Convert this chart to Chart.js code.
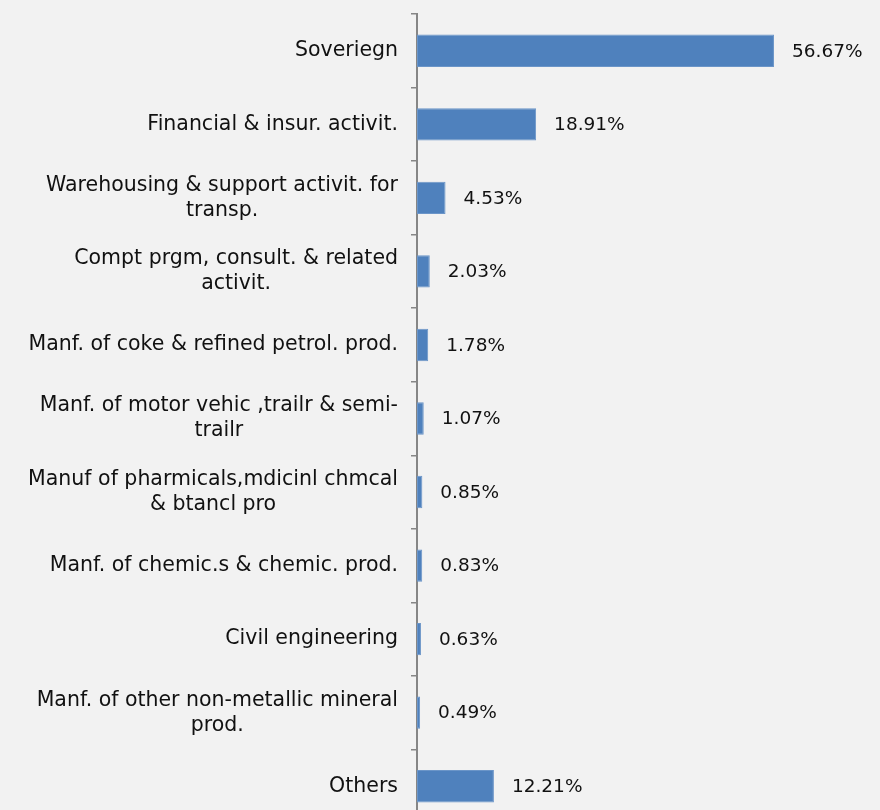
<!DOCTYPE html>
<html>
<head>
<meta charset="utf-8">
<script src="https://cdn.jsdelivr.net/npm/chart.js@4.4.0/dist/chart.umd.min.js"></script>
<style>
    html, body {
        margin: 0;
        padding: 0;
        background: #f2f2f2;
        overflow: hidden;
    }
    .chart-box {
        position: relative;
        width: 880px;
        height: 823px;
    }
</style>
</head>
<body>
<div class="chart-box">
    <canvas id="sector-chart"></canvas>
</div>
<script>
// Sector breakdown, share of total (%)
const sectors = [
    ["Soveriegn"],
    ["Financial & insur. activit."],
    ["Warehousing & support activit. for", "transp."],
    ["Compt prgm, consult. & related", "activit."],
    ["Manf. of coke & refined petrol. prod."],
    ["Manf. of motor vehic ,trailr & semi-", "trailr"],
    ["Manuf of pharmicals,mdicinl chmcal", "& btancl pro"],
    ["Manf. of chemic.s & chemic. prod."],
    ["Civil engineering"],
    ["Manf. of other non-metallic mineral", "prod."],
    ["Others"]
];
const shares = [56.67, 18.91, 4.53, 2.03, 1.78, 1.07, 0.85, 0.83, 0.63, 0.49, 12.21];

const LABEL_FONT = '20.5px "DejaVu Sans", sans-serif';
const VALUE_FONT = '18.5px "DejaVu Sans", sans-serif';
const TEXT_COLOR = '#111111';

// Category names: block right-aligned next to the axis, lines centred within the block
const categoryLabels = {
    id: 'categoryLabels',
    afterDraw(chart) {
        const ctx = chart.ctx;
        const y = chart.scales.y;
        const right = y.right - 19;
        const lineH = 25;
        ctx.save();
        ctx.font = LABEL_FONT;
        ctx.fillStyle = TEXT_COLOR;
        ctx.textAlign = 'center';
        ctx.textBaseline = 'middle';
        sectors.forEach((lines, i) => {
            const cy = y.getPixelForValue(i);
            const w = Math.max(...lines.map(l => ctx.measureText(l).width));
            const cx = right - w / 2;
            const top = cy - (lines.length - 1) * lineH / 2;
            lines.forEach((l, j) => ctx.fillText(l, cx, top + j * lineH));
        });
        ctx.restore();
    }
};

// Percent labels after each bar end
const valueLabels = {
    id: 'valueLabels',
    afterDatasetsDraw(chart) {
        const ctx = chart.ctx;
        const meta = chart.getDatasetMeta(0);
        ctx.save();
        ctx.font = VALUE_FONT;
        ctx.fillStyle = TEXT_COLOR;
        ctx.textAlign = 'left';
        ctx.textBaseline = 'middle';
        meta.data.forEach((bar, i) => {
            ctx.fillText(shares[i].toFixed(2) + '%', bar.x + 18, bar.y + 1);
        });
        ctx.restore();
    }
};

new Chart(document.getElementById('sector-chart'), {
    type: 'bar',
    data: {
        labels: sectors.map(l => l.join(' ')),
        datasets: [{
            data: shares,
            backgroundColor: '#4f81bd',
            borderColor: '#6b95c8',
            borderWidth: 1,
            borderSkipped: false,
            categoryPercentage: 1,
            barPercentage: 0.44
        }]
    },
    options: {
        indexAxis: 'y',
        responsive: true,
        maintainAspectRatio: false,
        animation: false,
        layout: { padding: { top: 14, right: 0, bottom: 0, left: 0 } },
        plugins: {
            legend: { display: false },
            tooltip: { enabled: false }
        },
        scales: {
            x: {
                display: false,
                min: 0,
                max: 73.5
            },
            y: {
                afterFit(scale) { scale.width = 417; },
                ticks: { display: false },
                grid: {
                    offset: true,
                    drawOnChartArea: false,
                    drawTicks: true,
                    tickLength: 6,
                    color: '#868686',
                    lineWidth: 1.5
                },
                border: { color: '#868686', width: 2 }
            }
        }
    },
    plugins: [categoryLabels, valueLabels]
});
</script>
</body>
</html>
